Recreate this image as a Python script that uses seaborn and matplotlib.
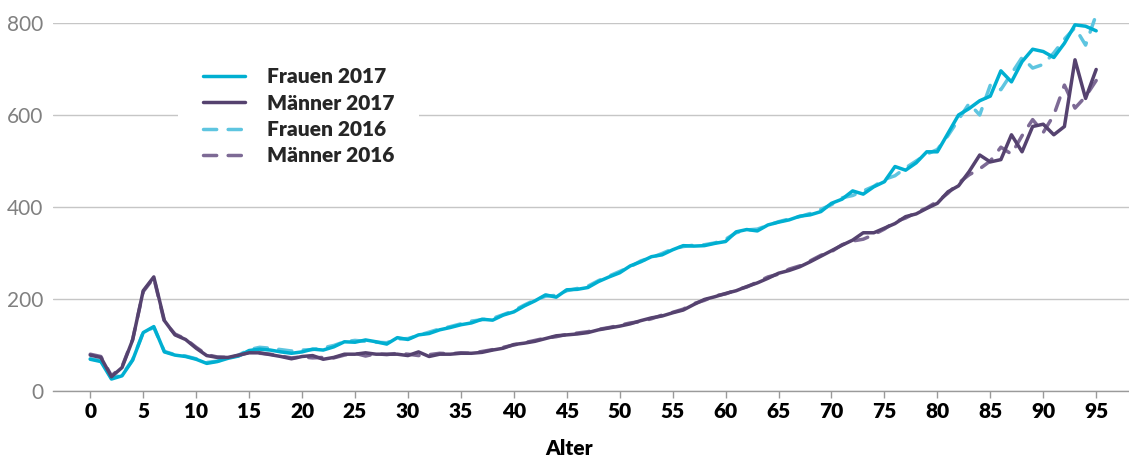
import seaborn as sns
import matplotlib.pyplot as plt

ages = list(range(96))

frauen_2017 = [69, 64, 26, 33, 67, 127, 140, 85, 78, 75,
               69, 60, 64, 71, 76, 88, 91, 89, 85, 82,
               85, 91, 89, 96, 107, 106, 111, 107, 102, 116,
               112, 122, 125, 133, 138, 144, 148, 156, 154, 165,
               172, 185, 196, 209, 204, 220, 221, 225, 238, 248,
               257, 272, 281, 292, 296, 307, 316, 315, 316, 321,
               325, 346, 351, 348, 361, 367, 372, 380, 383, 390,
               408, 417, 435, 428, 444, 455, 488, 480, 496, 520,
               520, 560, 600, 614, 631, 641, 696, 672, 716, 743,
               738, 725, 756, 796, 793, 783]

maenner_2017 = [78, 73, 31, 51, 111, 218, 248, 153, 122, 112,
                93, 77, 73, 73, 78, 83, 83, 79, 75, 70,
                75, 77, 69, 73, 80, 80, 83, 80, 80, 80,
                77, 85, 75, 80, 80, 82, 82, 84, 89, 93,
                101, 104, 108, 114, 120, 122, 124, 127, 133, 137,
                141, 146, 153, 159, 163, 170, 176, 188, 199, 205,
                212, 218, 227, 235, 245, 256, 262, 270, 281, 293,
                305, 317, 328, 344, 344, 354, 364, 379, 385, 397,
                408, 433, 446, 477, 513, 498, 503, 557, 520, 575,
                580, 557, 575, 720, 636, 699]

frauen_2016 = [70, 66, 28, 35, 68, 128, 138, 86, 79, 76,
               70, 62, 65, 71, 78, 90, 95, 93, 90, 87,
               89, 90, 94, 99, 107, 110, 108, 106, 105, 113,
               114, 121, 128, 135, 140, 146, 152, 155, 158, 166,
               175, 187, 198, 206, 208, 218, 223, 228, 240, 250,
               260, 270, 283, 290, 299, 309, 314, 317, 318, 322,
               330, 344, 350, 352, 360, 368, 374, 379, 386, 395,
               405, 420, 425, 435, 445, 460, 468, 485, 500, 515,
               525, 555, 590, 625, 600, 665, 655, 690, 725, 702,
               710, 735, 765, 790, 752, 818]

maenner_2016 = [80, 75, 33, 53, 112, 216, 246, 150, 124, 113,
                95, 79, 74, 73, 77, 84, 82, 80, 76, 72,
                74, 72, 73, 72, 78, 82, 76, 81, 79, 82,
                80, 77, 79, 82, 81, 83, 82, 86, 90, 95,
                100, 105, 110, 115, 118, 123, 126, 129, 134, 138,
                143, 148, 151, 157, 165, 171, 178, 190, 197, 207,
                211, 220, 226, 237, 248, 254, 265, 272, 283, 295,
                303, 318, 326, 330, 340, 352, 368, 376, 388, 398,
                412, 430, 452, 470, 483, 500, 530, 515, 555, 590,
                562, 600, 665, 615, 640, 675]

sns.set_theme(style="white")
plt.rcParams['font.family'] = ['Lato', 'DejaVu Sans']

fig = plt.figure(figsize=(11.29, 4.57), dpi=100)
ax = fig.add_axes([53 / 1129, 66 / 457, 1076 / 1129, 368 / 457])

dash = (0, (3.8, 3.3))
# 2016 first so the 2017 lines sit on top
sns.lineplot(x=ages, y=frauen_2016, ax=ax, color="#5ec5e0", linewidth=2.5,
             linestyle=dash, dash_capstyle="round", label="Frauen 2016", clip_on=False)
sns.lineplot(x=ages, y=maenner_2016, ax=ax, color="#7d6a95", linewidth=2.5,
             linestyle=dash, dash_capstyle="round", label="Männer 2016", clip_on=False)
sns.lineplot(x=ages, y=frauen_2017, ax=ax, color="#00afd1", linewidth=2.5,
             solid_capstyle="round", label="Frauen 2017", clip_on=False)
sns.lineplot(x=ages, y=maenner_2017, ax=ax, color="#55426f", linewidth=2.5,
             solid_capstyle="round", label="Männer 2017", clip_on=False)

ax.set_xlim(-3.52, 98.1)
ax.set_ylim(0, 800)
ax.set_xticks(range(0, 96, 5))
ax.set_yticks([0, 200, 400, 600, 800])
ax.yaxis.grid(True, color="#c6c6c6", linewidth=1)
ax.xaxis.grid(False)
for s in ["top", "right", "left"]:
    ax.spines[s].set_visible(False)
ax.spines["bottom"].set_color("#9a9a9a")
ax.spines["bottom"].set_linewidth(1)

ax.tick_params(axis="x", bottom=True, length=5, width=1, color="#9a9a9a",
               pad=3, labelsize=15, labelcolor="black")
for lab in ax.get_xticklabels():
    lab.set_fontweight("heavy")
ax.tick_params(axis="y", left=False, length=0, pad=7, labelsize=15,
               labelcolor="#808080")

ax.set_xlabel("Alter", fontsize=15, fontweight="heavy", color="black")
ax.xaxis.set_label_coords(0.48, -0.13)
ax.set_ylabel("")

handles, labels = ax.get_legend_handles_labels()
order = [2, 3, 0, 1]
leg = ax.legend([handles[i] for i in order], [labels[i] for i in order],
                loc="upper left", bbox_to_anchor=(178 / 1129, 1 - 42 / 457),
                bbox_transform=fig.transFigure, borderaxespad=0,
                frameon=True, facecolor="white", edgecolor="none", framealpha=1,
                fancybox=False, borderpad=1.2, handlelength=2.0, handletextpad=1.05,
                labelspacing=0.36, prop={"weight": "heavy", "size": 15})
leg.set_zorder(5)

plt.savefig("out.png", dpi=100)
